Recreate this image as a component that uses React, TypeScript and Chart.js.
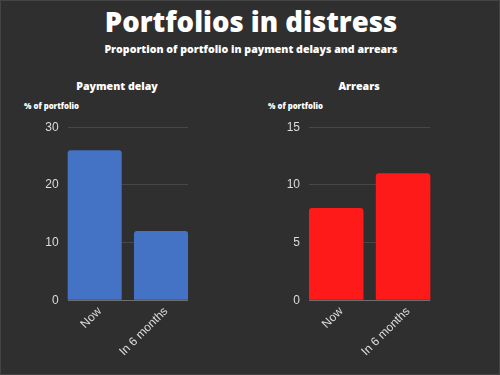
import React, { useEffect, useRef } from "react";
import { Chart, registerables } from "chart.js";

Chart.register(...registerables);

const categories = ["Now", "In 6 months"];
const paymentDelay = [26, 12];
const arrears = [8, 11];
const paymentTicks = [0, 10, 20, 30];
const arrearsTicks = [0, 5, 10, 15];

const BG = "#2f2f2f";
const TICK_COLOR = "#dcdcdc";

type PanelProps = {
  values: number[];
  color: string;
  yMax: number;
  yStep: number;
  left: number;
  axisWidth: number;
  rightPad: number;
};

function BarPanel({ values, color, yMax, yStep, left, axisWidth, rightPad }: PanelProps) {
  const ref = useRef<HTMLCanvasElement | null>(null);
  useEffect(() => {
    if (!ref.current) return;
    const pts = values.map((v, i) => ({ x: i, y: v }));
    const chart = new Chart(ref.current, {
      type: "bar",
      data: {
        datasets: [
          {
            data: pts,
            backgroundColor: color,
            borderRadius: { topLeft: 3, topRight: 3, bottomLeft: 0, bottomRight: 0 },
            borderSkipped: "start",
            barPercentage: 0.815,
            categoryPercentage: 1,
            clip: false as any,
          },
        ],
      },
      options: {
        animation: false,
        responsive: false,
        maintainAspectRatio: false,
        layout: { padding: { top: 15.7, right: rightPad, bottom: 0, left: 0 } },
        plugins: { legend: { display: false }, tooltip: { enabled: false } },
        scales: {
          x: {
            type: "linear",
            min: -0.407,
            max: 1.407,
            offset: false,
            grid: { display: false, drawTicks: false },
            border: { display: false },
            afterBuildTicks: (s: any) => {
              s.ticks = categories.map((_, i) => ({ value: i }));
            },
            afterFit: (s: any) => {
              s.height = 75.7;
            },
            ticks: {
              color: TICK_COLOR,
              font: { family: "Liberation Sans, Arial, sans-serif", size: 12 },
              minRotation: 45,
              maxRotation: 45,
              autoSkip: false,
              padding: 4,
              labelOffset: 5,
              callback: (v: any) => categories[Math.round(Number(v))] ?? "",
            },
          },
          y: {
            min: 0,
            max: yMax,
            border: { display: false },
            grid: {
              drawTicks: false,
              color: (c: any) => (c.tick && c.tick.value === 0 ? "#6e6e6e" : "#474747"),
              lineWidth: 1,
            },
            afterFit: (s: any) => {
              s.width = axisWidth;
            },
            ticks: {
              stepSize: yStep,
              color: TICK_COLOR,
              padding: 9,
              font: { family: "Liberation Sans, Arial, sans-serif", size: 12 },
            },
          },
        },
      },
    });
    return () => chart.destroy();
  }, []);
  return (
    <canvas
      ref={ref}
      width={250}
      height={265}
      style={{ position: "absolute", left, top: 110, width: 250, height: 265 }}
    />
  );
}

const titleFont = "'Open Sans', 'Noto Sans', sans-serif";

export default function App() {
  return (
    <div
      style={{
        position: "fixed",
        left: 0,
        top: 0,
        width: 500,
        height: 375,
        background: BG,
        overflow: "hidden",
        boxSizing: "border-box",
        border: "1px solid #444",
        fontFamily: titleFont,
        color: "#ffffff",
      }}
    >
      <div
        style={{
          position: "absolute",
          left: 0,
          width: 500,
          top: 1,
          textAlign: "center",
          fontSize: 27.5,
          fontWeight: 800,
          lineHeight: "40px",
        }}
      >
        Portfolios in distress
      </div>
      <div
        style={{
          position: "absolute",
          left: 0,
          width: 500,
          top: 38,
          textAlign: "center",
          fontSize: 10.6,
          fontWeight: 800,
          lineHeight: "20px",
        }}
      >
        Proportion of portfolio in payment delays and arrears
      </div>
      <div
        style={{
          position: "absolute",
          left: 16,
          width: 200,
          top: 75,
          textAlign: "center",
          fontSize: 10.6,
          fontWeight: 800,
          lineHeight: "20px",
        }}
      >
        Payment delay
      </div>
      <div
        style={{
          position: "absolute",
          left: 258,
          width: 200,
          top: 75,
          textAlign: "center",
          fontSize: 10.6,
          fontWeight: 800,
          lineHeight: "20px",
        }}
      >
        Arrears
      </div>
      <div
        style={{
          position: "absolute",
          left: 23,
          top: 98,
          fontSize: 7.8,
          fontWeight: 800,
          lineHeight: "14px",
        }}
      >
        % of portfolio
      </div>
      <div
        style={{
          position: "absolute",
          left: 267,
          top: 98,
          fontSize: 7.8,
          fontWeight: 800,
          lineHeight: "14px",
        }}
      >
        % of portfolio
      </div>
      <BarPanel
        values={paymentDelay}
        color="#4472c4"
        yMax={paymentTicks[paymentTicks.length - 1]}
        yStep={paymentTicks[1] - paymentTicks[0]}
        left={0}
        axisWidth={66.7}
        rightPad={63}
      />
      <BarPanel
        values={arrears}
        color="#ff1a1a"
        yMax={arrearsTicks[arrearsTicks.length - 1]}
        yStep={arrearsTicks[1] - arrearsTicks[0]}
        left={250}
        axisWidth={58}
        rightPad={70.7}
      />
    </div>
  );
}
